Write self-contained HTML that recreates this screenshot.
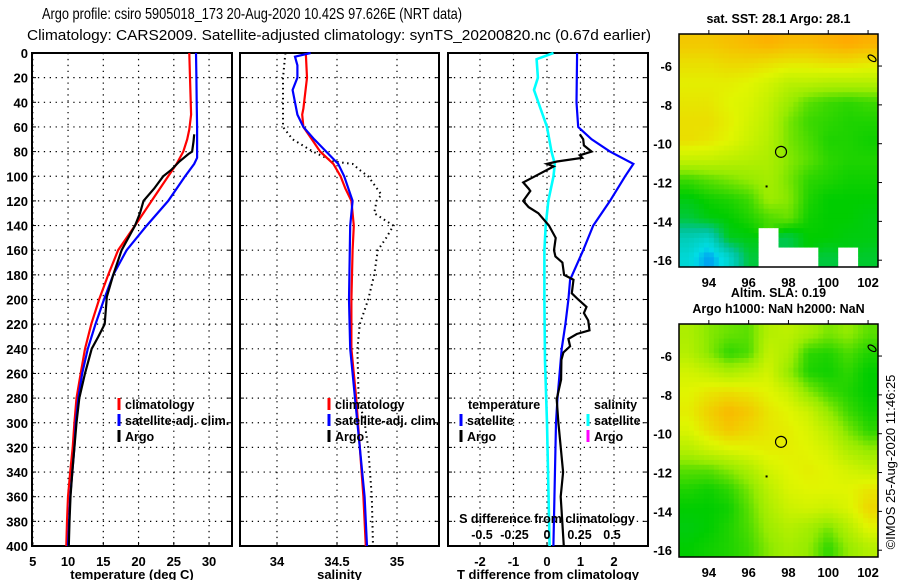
<!DOCTYPE html>
<html><head><meta charset="utf-8"><style>
html,body{margin:0;padding:0;background:#fff;}
svg{display:block;font-family:"Liberation Sans",sans-serif;}
.tk{font-size:13px;font-weight:bold;}
.lg{font-size:12.5px;font-weight:bold;}
</style></head><body>
<svg id="chart" width="900" height="580" viewBox="0 0 900 580" xmlns="http://www.w3.org/2000/svg">
<text x="42" y="19" font-size="16" textLength="420" lengthAdjust="spacingAndGlyphs">Argo profile: csiro 5905018_173 20-Aug-2020 10.42S 97.626E (NRT data)</text>
<text x="27" y="40" font-size="15" textLength="624" lengthAdjust="spacingAndGlyphs">Climatology: CARS2009. Satellite-adjusted climatology: synTS_20200820.nc (0.67d earlier)</text>
<g id="g"></g>
<text transform="translate(895,462) rotate(-90)" text-anchor="middle" font-size="13">©IMOS 25-Aug-2020 11:46:25</text>
</svg>
<script>
// ---------- data ----------
const depthTicks = [0,20,40,60,80,100,120,140,160,180,200,220,240,260,280,300,320,340,360,380,400];
const tempTicks = [5,10,15,20,25,30];
const salTicks = [34,34.5,35];
const tdiffTicks = [-2,-1,0,1,2];
const sdiffTicks = [-0.5,-0.25,0,0.25,0.5];
const sdiffTickLabels = ["-0.5","-0.25","0","0.25","0.5"];

const tClimDepth = [0,20,50,62,70,80,90,100,120,140,160,180,200,220,240,260,280,300,320,340,360,380,400];
const tClimVal   = [27.2,27.3,27.45,27.2,26.9,26.35,25.4,24.2,21.85,19.5,17.1,15.7,14.4,13.3,12.4,11.8,11.2,10.9,10.66,10.3,10.0,9.85,9.75];
const tSatDepth = [0,20,40,60,85,90,100,120,140,160,180,200,220,240,260,280,300,320,340,360,380,400];
const tSatVal   = [28.15,28.2,28.25,28.3,28.3,27.9,26.6,24.2,21.15,18.3,16.4,15.1,13.9,12.8,12.0,11.45,11.1,10.9,10.6,10.3,10.15,10.0];
const tArgoDepth = [66,72,80,82,88,95,100,110,120,130,140,160,180,198,220,230,240,260,280,300,320,340,360,380,400];
const tArgoVal   = [27.9,27.8,27.6,27.05,25.8,24.6,23.5,22.2,20.7,20.2,19.5,17.6,16.4,15.5,15.2,14.3,13.35,12.4,11.6,11.2,10.9,10.6,10.35,10.2,10.1];

const sClimDepth = [0,20,45,50,60,70,80,90,100,110,120,140,160,200,240,280,320,360,400];
const sClimVal   = [34.24,34.25,34.22,34.21,34.22,34.29,34.36,34.47,34.53,34.57,34.62,34.64,34.63,34.62,34.62,34.66,34.69,34.72,34.74];
const sSatDepth = [0,3,10,20,30,40,50,60,70,80,90,100,120,140,200,240,280,320,360,400];
const sSatVal   = [34.28,34.15,34.17,34.17,34.13,34.15,34.17,34.22,34.31,34.41,34.51,34.56,34.63,34.61,34.60,34.61,34.65,34.69,34.73,34.75];
const sArgoDepth = [0,20,40,60,70,80,88,90,95,100,115,120,130,140,150,160,180,200,220,240,280,300,320,360,400];
const sArgoVal   = [34.07,34.05,34.05,34.05,34.13,34.30,34.47,34.63,34.69,34.76,34.87,34.83,34.81,34.97,34.91,34.84,34.81,34.76,34.69,34.67,34.68,34.73,34.76,34.79,34.80];

const dsSatDepth = [0,5,20,30,45,60,80,90,100,120,140,160,200,250,300,350,400];
const dsSatVal   = [0.05,-0.08,-0.07,-0.10,-0.05,0,0.035,0.06,0.05,0.01,-0.01,-0.02,-0.02,-0.015,0,0.01,0.02];
const dtSatDepth = [0,40,60,70,80,90,100,120,140,160,184,200,220,240,281,300,400];
const dtSatVal   = [0.9,0.88,0.93,1.33,1.88,2.58,2.33,1.88,1.38,1.08,0.69,0.64,0.55,0.44,0.31,0.27,0.19];
const dtArgoDepth = [66,70,75,80,83,85,88,90,92,100,105,110,112,120,125,130,140,150,160,165,170,180,184,195,200,206,211,217,225,228,232,238,243,249,265,281,300,340,360,400];
const dtArgoVal   = [0.98,1.08,1.1,1.33,0.98,1.05,0.3,0,0.2,-0.36,-0.71,-0.55,-0.5,-0.71,-0.55,-0.26,0.06,0.26,0.21,0.25,0.46,0.51,0.79,0.74,0.93,1.18,1.1,1.23,1.27,0.89,0.64,0.69,0.49,0.43,0.42,0.29,0.34,0.48,0.41,0.5];

// map grids: 10 lon cols (92.5..102.5) x 12 lat rows (-4.35..-16.35); colour level 0..6, null = missing
const sstGrid = [
[5.6,5.6,5.7,5.8,5.9,5.8,5.8,5.9,6.0,5.9],
[5.3,5.3,5.4,5.4,5.3,5.2,5.2,5.3,5.3,5.2],
[5.1,5.1,5.1,5.0,4.8,4.5,4.5,4.4,4.4,4.4],
[5.2,5.2,5.0,4.9,4.6,4.1,3.6,3.4,3.3,3.4],
[5.3,5.3,5.1,4.8,4.5,3.8,3.4,3.3,3.2,3.2],
[5.3,5.2,5.0,4.7,4.4,3.8,3.5,3.2,3.2,3.1],
[4.6,4.6,4.5,4.4,4.3,3.9,3.6,3.3,3.2,3.2],
[3.4,3.6,3.8,4.0,4.2,3.8,3.3,3.2,3.1,3.1],
[2.9,3.1,3.2,3.4,4.1,3.9,3.2,3.0,3.0,3.0],
[2.6,2.9,3.0,3.2,3.5,3.7,3.1,3.0,3.0,2.9],
[1.6,1.4,2.8,2.9,null,2.5,3.0,3.0,2.9,2.9],
[1.2,0.5,1.3,2.6,null,null,null,2.6,null,2.7]];
const slaGrid = [
[4.3,3.9,3.7,3.6,4.4,4.5,4.2,3.8,4.0,3.6],
[4.4,3.9,3.3,3.5,4.6,4.3,3.3,3.2,3.5,3.2],
[4.8,4.6,4.3,4.5,4.8,4.0,3.2,3.1,3.3,3.0],
[5.0,5.2,5.3,5.2,5.0,4.7,3.9,3.4,3.2,3.0],
[5.1,5.5,5.8,5.6,5.2,5.0,4.7,4.0,3.4,3.1],
[4.9,5.3,5.6,5.4,5.2,5.1,4.9,4.5,3.8,3.3],
[4.4,4.7,4.9,5.0,5.1,5.1,5.0,4.8,4.3,4.0],
[3.6,3.6,3.9,4.3,4.8,5.0,5.1,5.0,4.8,4.6],
[3.2,3.1,3.3,3.8,4.5,4.9,5.0,5.0,5.0,5.2],
[3.0,3.0,3.1,3.6,4.3,4.7,4.8,4.7,4.9,5.4],
[2.9,3.0,3.2,3.5,4.1,4.4,4.2,3.8,4.4,5.0],
[3.0,3.1,3.2,3.4,3.9,4.2,4.0,3.3,4.0,4.4]];
const lonTicks = [94,96,98,100,102];
const latTicks = [-6,-8,-10,-12,-14,-16];
const argoLon = 97.626, argoLat = -10.42;

// ---------- helpers ----------
const NS = "http://www.w3.org/2000/svg";
const G = document.getElementById('g');
function el(tag, attrs, parent){ const e=document.createElementNS(NS,tag); for(const k in attrs) e.setAttribute(k,attrs[k]); (parent||G).appendChild(e); return e; }
function txt(s, attrs, parent){ const e=el('text',attrs,parent); e.textContent=s; return e; }
const yTop=53, yBot=546;
const yD = d => yTop + d*(yBot-yTop)/400;

function panel(name, x0, x1, xs, xticks, xlabels, xtitle, showY){
  const g=el('g',{});
  
  
  xticks.forEach(v=>{ const x=xs(v);
    const l=el('line',{x1:x,x2:x,y1:yTop,y2:yBot,stroke:'#000','stroke-width':1.2,'stroke-dasharray':'1.3,4.6'},g);
     
    el('line',{x1:x,x2:x,y1:yBot,y2:yBot-4,stroke:'#000','stroke-width':1},g);
  });
  depthTicks.forEach(d=>{ const y=yD(d);
    if(d>0&&d<400){ const l=el('line',{x1:x0,x2:x1,y1:y,y2:y,stroke:'#000','stroke-width':1.2,'stroke-dasharray':'1.3,4.6'},g);
        }
    el('line',{x1:x0,x2:x0+4,y1:y,y2:y,stroke:'#000'},g);
    el('line',{x1:x1,x2:x1-4,y1:y,y2:y,stroke:'#000'},g);
    if(showY){ const t=txt(String(d),{x:28,y:y+5,'text-anchor':'end',class:'tk'},g);
        }
  });
  xticks.forEach((v,i)=>{ const t=txt(xlabels[i],{x:xs(v),y:566,'text-anchor':'middle',class:'tk'},g);
      });
  const tt=txt(xtitle,{x:(x0+x1)/2,y:579,'text-anchor':'middle',class:'tk'},g);
   
  const fr=el('rect',{x:x0,y:yTop,width:x1-x0,height:yBot-yTop,fill:'none',stroke:'#000','stroke-width':2},g);
   
  return g;
}
function line(g, name, depths, vals, xs, color, w, dash){
  const pts=depths.map((d,i)=>xs(vals[i]).toFixed(1)+','+yD(d).toFixed(1)).join(' ');
  const p=el('polyline',{points:pts,fill:'none',stroke:color,'stroke-width':w},g);
  if(dash) p.setAttribute('stroke-dasharray',dash);
  
  
}
function legend(g, x, y, color, label){
  const m=el('rect',{x:x-1.5,y:y-11,width:3,height:12,fill:color},g);
   
  const t=txt(label,{x:x+6,y:y,class:'lg'},g);
   
}

// ---------- panel 1: temperature ----------
const xT = v => 32.8 + (v-5)*7.05;
const p1 = panel('temperature-panel',32,232,xT,tempTicks,tempTicks.map(String),'temperature (deg C)',true);
line(p1,'temp-climatology-line',tClimDepth,tClimVal,xT,'#f00',2.2);
line(p1,'temp-satellite-line',tSatDepth,tSatVal,xT,'#00f',2.2);
line(p1,'temp-argo-line',tArgoDepth,tArgoVal,xT,'#000',2.2);
legend(p1,119,409,'#f00','climatology');
legend(p1,119,425,'#00f','satellite-adj. clim.');
legend(p1,119,441,'#000','Argo');

// ---------- panel 2: salinity ----------
const xS = v => 277 + (v-34)*120;
const p2 = panel('salinity-panel',240,439,xS,salTicks,salTicks.map(String),'salinity',false);
line(p2,'sal-argo-line',sArgoDepth,sArgoVal,xS,'#000',2,'1.5,3.5');
line(p2,'sal-climatology-line',sClimDepth,sClimVal,xS,'#f00',2.2);
line(p2,'sal-satellite-line',sSatDepth,sSatVal,xS,'#00f',2.2);
legend(p2,329,409,'#f00','climatology');
legend(p2,329,425,'#00f','satellite-adj. clim.');
legend(p2,329,441,'#000','Argo');

// ---------- panel 3: differences ----------
const xDT = v => 547 + v*33.5;
const xDS = v => 547 + v*130;
const p3 = panel('difference-panel',448,648,xDT,tdiffTicks,tdiffTicks.map(String),'T difference from climatology',false);
line(p3,'sdiff-satellite-line',dsSatDepth,dsSatVal,xDS,'#0ff',2.6);
line(p3,'tdiff-satellite-line',dtSatDepth,dtSatVal,xDT,'#00f',2.2);
line(p3,'tdiff-argo-line',dtArgoDepth,dtArgoVal,xDT,'#000',2.2);
[["temperature",468],["salinity",594]].forEach(a=>{const t=txt(a[0],{x:a[1],y:409,class:'lg'},p3);
   });
legend(p3,461,425,'#00f','satellite');
legend(p3,461,441,'#000','Argo');
legend(p3,588,425,'#0ff','satellite');
legend(p3,588,441,'#f0f','Argo');
const st=txt('S difference from climatology',{x:547,y:523,'text-anchor':'middle',class:'lg'},p3);
 
sdiffTicks.forEach((v,i)=>{const t=txt(sdiffTickLabels[i],{x:xDS(v),y:539,'text-anchor':'middle',class:'lg'},p3);
   });

// ---------- maps ----------
const stops=[[0,90,255],[0,220,230],[0,195,150],[0,205,0],[150,235,0],[225,245,0],[255,170,0]];
function col(v){ v=Math.max(0,Math.min(6,v)); const i=Math.min(5,Math.floor(v)), f=v-i;
  const a=stops[i],b=stops[i+1]; return 'rgb('+a.map((c,k)=>Math.round(c+(b[k]-c)*f)).join(',')+')'; }
function drawMap(name, grid, mx0, my0, title1, title2, t1y, t2y){
  const W=199, H=233, lon0=92.5, lon1=102.5, lat0=-4.35, lat1=-16.35;
  const xm = lon => mx0 + (lon-lon0)/(lon1-lon0)*W;
  const ym = lat => my0 + (lat0-lat)/(lat0-lat1)*H;
  const g=el('g',{});
  
  
  const nr=grid.length, nc=grid[0].length, sub=4;
  const val=(r,c)=>{ r=Math.max(0,Math.min(nr-1,r)); c=Math.max(0,Math.min(nc-1,c)); return grid[r][c]; };
  for(let r=0;r<nr*sub;r++) for(let c=0;c<nc*sub;c++){
    const fr=(r+0.5)/sub-0.5, fc=(c+0.5)/sub-0.5;
    const near=val(Math.floor(r/sub),Math.floor(c/sub));
    let color='#fff';
    if(near!==null){
      const r0=Math.floor(fr), c0=Math.floor(fc), dr=fr-r0, dc=fc-c0;
      let s=0,w=0;
      [[r0,c0,(1-dr)*(1-dc)],[r0+1,c0,dr*(1-dc)],[r0,c0+1,(1-dr)*dc],[r0+1,c0+1,dr*dc]].forEach(q=>{const v=val(q[0],q[1]); if(v!==null){s+=v*q[2];w+=q[2];}});
      color=col(s/w);
    }
    const x=mx0+c*W/(nc*sub), y=my0+r*H/(nr*sub);
    el('rect',{x:x.toFixed(2),y:y.toFixed(2),width:(W/(nc*sub)+0.4).toFixed(2),height:(H/(nr*sub)+0.4).toFixed(2),fill:color},g);
  }
  const fr=el('rect',{x:mx0,y:my0,width:W,height:H,fill:'none',stroke:'#000','stroke-width':1.5},g);
   
  lonTicks.forEach(l=>{ const x=xm(l); el('line',{x1:x,x2:x,y1:my0,y2:my0-4,stroke:'#000'},g);
    const t=txt(String(l),{x:x,y:my0+H+20,'text-anchor':'middle',class:'tk'},g);
      });
  latTicks.forEach(l=>{ const y=ym(l); el('line',{x1:mx0+W,x2:mx0+W+4,y1:y,y2:y,stroke:'#000'},g);
    const t=txt(String(l),{x:mx0-7,y:y+5,'text-anchor':'end',class:'tk'},g);
      });
  const c=el('circle',{cx:xm(argoLon),cy:ym(argoLat),r:5.5,fill:'none',stroke:'#000','stroke-width':1.2},g);
   
  const ix=xm(102.2), iy=ym(-5.6);
  const isl=el('ellipse',{cx:ix,cy:iy,rx:4.5,ry:2.5,fill:'none',stroke:'#000','stroke-width':1.2,transform:'rotate(35 '+ix+' '+iy+')'},g);
   
  el('rect',{x:xm(96.85),y:ym(-12.15),width:2,height:2,fill:'#000'},g);
  const t1=txt(title1,{x:mx0+W/2,y:t1y,'text-anchor':'middle',class:'lg'},g);
   
  if(title2){ const t2=txt(title2,{x:mx0+W/2,y:t2y,'text-anchor':'middle',class:'lg'},g);
      }
}
drawMap('sst-map',sstGrid,679,34,'sat. SST: 28.1 Argo: 28.1',null,23,0);
drawMap('sla-map',slaGrid,679,324,'Altim. SLA: 0.19','Argo h1000: NaN h2000: NaN',297,313);
</script>
</body></html>
